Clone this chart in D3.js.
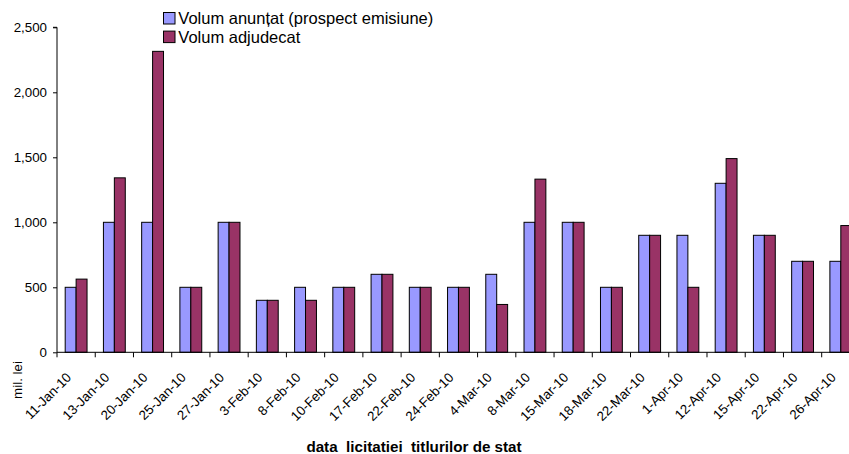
<!DOCTYPE html>
<html>
<head>
<meta charset="utf-8">
<script src="https://cdn.jsdelivr.net/npm/d3@7"></script>
<style>
  html, body { margin: 0; padding: 0; background: #fff; }
  svg { display: block; font-family: "Liberation Sans", Arial, sans-serif; }
</style>
</head>
<body>
<svg id="chart" width="849" height="454"></svg>
<script>
const categories = ["11-Jan-10","13-Jan-10","20-Jan-10","25-Jan-10","27-Jan-10","3-Feb-10","8-Feb-10","10-Feb-10","17-Feb-10","22-Feb-10","24-Feb-10","4-Mar-10","8-Mar-10","15-Mar-10","18-Mar-10","22-Mar-10","1-Apr-10","12-Apr-10","15-Apr-10","22-Apr-10","26-Apr-10"];
const volumAnuntat = [500,1000,1000,500,1000,400,500,500,600,500,500,600,1000,1000,500,900,900,1300,900,700,700];
const volumAdjudecat = [563,1342,2315,500,1000,400,400,500,600,500,500,368,1332,1000,500,900,500,1490,900,700,975];
const seriesNames = ["Volum anunțat (prospect emisiune)", "Volum adjudecat"];
const seriesColors = ["#9999FF", "#993366"];
const yTicks = [0,500,1000,1500,2000,2500];

const svg = d3.select("#chart");
const x0 = 57, x1 = 57 + 21 * 38.235, yTop = 27.3, yBot = 352.3;

const x = d3.scaleBand().domain(categories).range([x0, x1]).paddingInner(0).paddingOuter(0);
const bw = x.bandwidth() / 3.5;
const y = d3.scaleLinear().domain([0, 2500]).range([yBot, yTop]);

const data = categories.map((c, i) => ({c, vals: [volumAnuntat[i], volumAdjudecat[i]]}));

const g = svg.append("g");
data.forEach(d => {
  const start = x(d.c) + (x.bandwidth() - 2 * bw) / 2;
  d.vals.forEach((v, s) => {
    g.append("rect")
      .attr("x", start + s * bw)
      .attr("y", y(v))
      .attr("width", bw)
      .attr("height", yBot - y(v))
      .attr("fill", seriesColors[s])
      .attr("stroke", "#000")
      .attr("stroke-width", 1);
  });
});

// Y axis
const yAxis = d3.axisLeft(y).tickValues(yTicks).tickFormat(d3.format(",")).tickSize(4).tickPadding(6);
const ya = svg.append("g").attr("transform", `translate(${x0},0)`).call(yAxis);
ya.select(".domain").attr("d", `M-4,${yTop}H0V${yBot}`).attr("stroke", "#000");
ya.selectAll("text").attr("font-size", 13.33).attr("fill", "#000").style("font-family", "Liberation Sans, Arial, sans-serif");
ya.selectAll("line").attr("stroke", "#000");

// X axis
const xa = svg.append("g").attr("transform", `translate(0,${yBot})`);
xa.append("line").attr("x1", x0).attr("x2", x1).attr("y1", 0).attr("y2", 0).attr("stroke", "#000");
const boundaries = categories.map(c => x(c)).concat([x1]);
xa.selectAll("line.tick").data(boundaries).enter().append("line")
  .attr("class", "tick")
  .attr("x1", d => d).attr("x2", d => d).attr("y1", 0).attr("y2", 5).attr("stroke", "#000");
xa.selectAll("text.lbl").data(categories).enter().append("text")
  .attr("class", "lbl")
  .attr("transform", d => `translate(${x(d) + x.bandwidth() / 2 - 4},${26}) rotate(-45)`)
  .attr("text-anchor", "end")
  .attr("font-size", 13.33)
  .text(d => d);

// Axis titles
svg.append("text")
  .attr("x", 414).attr("y", 452)
  .attr("text-anchor", "middle")
  .attr("font-size", 15.2).attr("font-weight", "bold")
  .style("white-space", "pre")
  .text("data  licitatiei  titlurilor de stat");
svg.append("text")
  .attr("transform", "translate(22,380) rotate(-90)")
  .attr("text-anchor", "middle")
  .attr("font-size", 13.33)
  .text("mil. lei");

// Legend
const lg = svg.append("g");
seriesNames.forEach((n, i) => {
  lg.append("rect").attr("x", 163.5).attr("y", 12.5 + i * 18.6).attr("width", 11.5).attr("height", 11.5)
    .attr("fill", seriesColors[i]).attr("stroke", "#000").attr("stroke-width", 1);
  lg.append("text").attr("x", 178.3).attr("y", 24.2 + i * 18.6).attr("font-size", 16.5).text(n);
});
</script>
</body>
</html>
